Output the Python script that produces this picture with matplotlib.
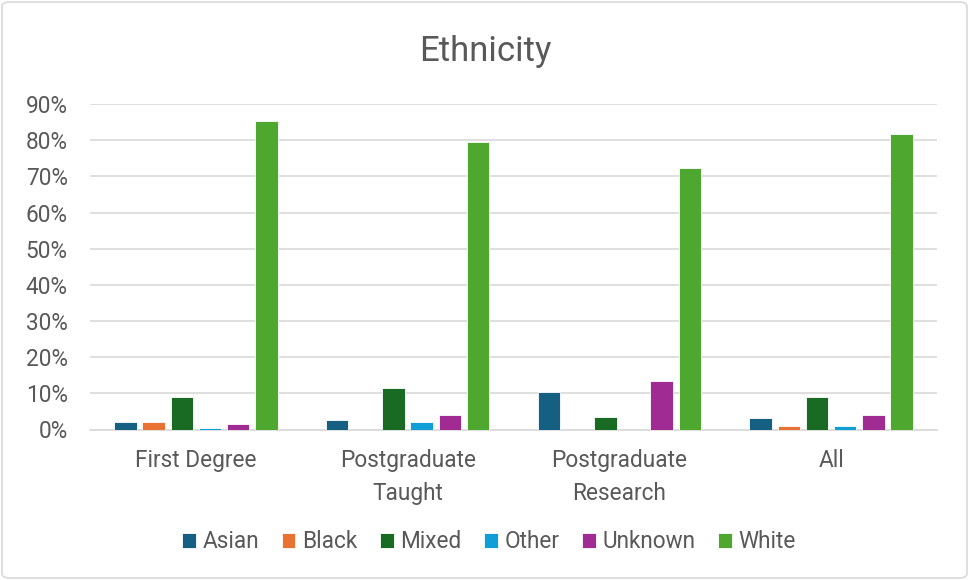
import matplotlib
matplotlib.use("Agg")
import matplotlib.pyplot as plt
import numpy as np
from matplotlib.patches import FancyBboxPatch

categories = ["First Degree", "Postgraduate\nTaught", "Postgraduate\nResearch", "All"]
series_names = ["Asian", "Black", "Mixed", "Other", "Unknown", "White"]
asian = [2.0, 2.6, 10.4, 3.2]
black = [2.0, 0.0, 0.0, 1.0]
mixed = [9.0, 11.5, 3.4, 9.0]
other = [0.4, 2.0, 0.0, 1.0]
unknown = [1.5, 4.0, 13.5, 4.0]
white = [85.2, 79.4, 72.2, 81.6]
yticks = [0, 10, 20, 30, 40, 50, 60, 70, 80, 90]

colors = ["#156082", "#E97132", "#196B24", "#0F9ED5", "#A02B93", "#4EA72E"]
values = [asian, black, mixed, other, unknown, white]

plt.rcParams['font.family'] = ['Roboto', 'DejaVu Sans']
txt = "#595959"

fig = plt.figure(figsize=(9.69, 5.80), dpi=100)
ax = fig.add_axes([90/969, 1-429.5/580, (937-90)/969, (429.5-104)/580])

x = np.arange(len(categories))
step = 0.133
width = 0.106
for i, (name, vals, c) in enumerate(zip(series_names, values, colors)):
    offs = (i - 2.5) * step
    ax.bar(x + offs, vals, width=width, color=c, label=name,
           edgecolor="white", linewidth=0.6, zorder=3)

ax.set_xlim(-0.5, len(categories) - 0.5)
ax.set_ylim(0, 90)
ax.set_yticks(yticks)
ax.set_yticklabels([f"{t}%" for t in yticks], fontsize=16.3, color=txt)
ax.set_xticks(x)
ax.set_xticklabels(categories, fontsize=16.3, color=txt, linespacing=1.55)
ax.tick_params(axis='both', length=0)
ax.tick_params(axis='y', pad=16)
ax.tick_params(axis='x', pad=14)
ax.grid(axis='y', color="#d9d9d9", linewidth=1.2, zorder=0)
for s in ["top", "right", "left"]:
    ax.spines[s].set_visible(False)
ax.spines["bottom"].set_color("#d9d9d9")
ax.spines["bottom"].set_linewidth(1.2)

fig.text(485/969, 1-51/580, "Ethnicity", ha="center", va="center", fontsize=25, color=txt)

leg = fig.legend(loc="center", bbox_to_anchor=(489/969, 1-542/580), ncol=6, frameon=False,
                 fontsize=16.3, handlelength=0.6, handleheight=0.6, handletextpad=0.3,
                 columnspacing=1.0, labelcolor=txt)

border = FancyBboxPatch((2/969, 2/580), 1-4/969, 1-4/580, boxstyle="round,pad=0,rounding_size=0.008",
                        transform=fig.transFigure, fill=False, edgecolor="#d9d9d9", linewidth=1.2)
fig.patches.append(border)

fig.savefig("out.png", dpi=100)
